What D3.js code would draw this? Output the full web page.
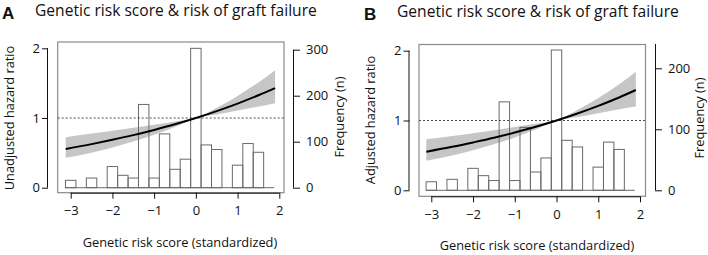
<!DOCTYPE html>
<html>
<head>
<meta charset="utf-8">
<script src="https://cdn.jsdelivr.net/npm/d3@7"></script>
<style>
  body { margin: 0; background: #fff; }
  svg text { font-family: "Open Sans", sans-serif; fill: #111; }
</style>
</head>
<body>
<div id="chart"></div>
<script>
// histogram bin edges (standardized genetic risk score)
const binEdges = [-3.125, -2.875, -2.625, -2.375, -2.125, -1.875, -1.625, -1.375, -1.125, -0.875,
                  -0.625, -0.375, -0.125, 0.125, 0.375, 0.625, 0.875, 1.125, 1.375, 1.625, 1.875];
const countsA = [16, 0, 21, 0, 46, 27, 21, 181, 21, 117, 40, 62, 303, 93, 83, 0, 49, 96, 77, 0];
const countsB = [14, 0, 18, 0, 36, 24, 16, 145, 16, 103, 30, 53, 230, 82, 71, 0, 38, 79, 67, 0];

// hazard ratio curve and 95% band
const curveX = [-3.12, -2.5, -2, -1.5, -1, -0.5, 0, 0.5, 1, 1.5, 1.9];
const hrA    = [0.556, 0.625, 0.687, 0.754, 0.829, 0.910, 1, 1.099, 1.207, 1.326, 1.429];
const loA    = [0.430, 0.503, 0.577, 0.662, 0.760, 0.872, 1, 1.052, 1.106, 1.164, 1.212];
const hiA    = [0.725, 0.777, 0.817, 0.859, 0.904, 0.951, 1, 1.147, 1.317, 1.511, 1.686];
const hrB    = [0.553, 0.623, 0.686, 0.753, 0.829, 0.910, 1, 1.100, 1.210, 1.330, 1.437];
const loB    = [0.424, 0.500, 0.575, 0.660, 0.758, 0.871, 1, 1.050, 1.103, 1.160, 1.200];
const hiB    = [0.730, 0.779, 0.819, 0.861, 0.906, 0.952, 1, 1.150, 1.322, 1.520, 1.700];

const xTicks = [-3, -2, -1, 0, 1, 2];
const hrTicks = [0, 1, 2];
const freqTicksA = [0, 100, 200, 300];
const freqTicksB = [0, 100, 200];

const svg = d3.select("#chart").append("svg")
    .attr("width", 708)
    .attr("height", 255);

function drawPanel(p) {
    const g = svg.append("g");

    const x = d3.scaleLinear().domain([-3, 2]).range(p.xRange);
    const yHr = d3.scaleLinear().domain([0, 2]).range(p.hrRange);
    const yFreq = d3.scaleLinear().domain([0, p.freqMax]).range(p.freqRange);

    // plot box
    g.append("rect")
        .attr("x", p.box[0]).attr("y", p.box[1])
        .attr("width", p.box[2] - p.box[0]).attr("height", p.box[3] - p.box[1])
        .attr("fill", "none")
        .attr("stroke", "#8a8a8a")
        .attr("stroke-width", 1.2);

    const pts = curveX.map((v, i) => ({ x: v, hr: p.hr[i], lo: p.lo[i], hi: p.hi[i] }));

    const band = d3.area()
        .x(d => x(d.x))
        .y0(d => yHr(d.lo))
        .y1(d => yHr(d.hi))
        .curve(d3.curveMonotoneX);

    g.append("path")
        .datum(pts)
        .attr("d", band)
        .attr("fill", "#c6c6c6");

    // histogram
    const bins = p.counts.map((c, i) => ({ x0: binEdges[i], x1: binEdges[i + 1], n: c }));
    g.selectAll("rect.bar")
        .data(bins.filter(d => d.n > 0))
        .enter()
        .append("rect")
        .attr("class", "bar")
        .attr("x", d => x(d.x0))
        .attr("y", d => yFreq(d.n))
        .attr("width", d => x(d.x1) - x(d.x0))
        .attr("height", d => yFreq(0) - yFreq(d.n))
        .attr("fill", "none")
        .attr("stroke", "#6a6a6a")
        .attr("stroke-width", 1);

    g.append("line")
        .attr("x1", x(binEdges[0])).attr("x2", x(binEdges[binEdges.length - 1]))
        .attr("y1", yFreq(0)).attr("y2", yFreq(0))
        .attr("stroke", "#6a6a6a")
        .attr("stroke-width", 1);

    // reference line at HR = 1
    g.append("line")
        .attr("x1", p.box[0]).attr("x2", p.box[2])
        .attr("y1", yHr(1)).attr("y2", yHr(1))
        .attr("stroke", "#222")
        .attr("stroke-width", 0.8)
        .attr("stroke-dasharray", "2,2");

    const line = d3.line()
        .x(d => x(d.x))
        .y(d => yHr(d.hr))
        .curve(d3.curveMonotoneX);

    g.append("path")
        .datum(pts)
        .attr("d", line)
        .attr("fill", "none")
        .attr("stroke", "#000")
        .attr("stroke-width", 2);

    // x axis
    const xAxis = g.append("g")
        .attr("transform", `translate(0,${p.box[3]})`)
        .call(d3.axisBottom(x).tickValues(xTicks).tickSize(6).tickPadding(7).tickFormat(d3.format("d")));
    xAxis.select(".domain").attr("d", `M${x(-3)},0.5H${x(2)}`);

    // left HR axis
    const yAxis = g.append("g")
        .attr("transform", `translate(${p.leftAxisX},0)`)
        .call(d3.axisLeft(yHr).tickValues(hrTicks).tickSize(6).tickPadding(2).tickFormat(d3.format("d")));
    yAxis.select(".domain").attr("d", `M-0.5,${yHr(0)}V${yHr(2)}`);

    // right frequency axis
    const fAxis = g.append("g")
        .attr("transform", `translate(${p.rightAxisX},0)`)
        .call(d3.axisRight(yFreq).tickValues(p.freqTicks).tickSize(7).tickPadding(6));
    fAxis.select(".domain").attr("d", `M0.5,${yFreq(0)}V${yFreq(p.freqLineTop)}`);

    [xAxis, yAxis, fAxis].forEach(a => {
        a.selectAll("line, path").attr("stroke", "#111");
        a.selectAll("text").style("font-size", "13px").attr("fill", "#111");
    });

    // labels
    g.append("text")
        .attr("x", p.panelX).attr("y", p.titleY + 3)
        .style("font-size", "17px")
        .style("font-weight", "bold")
        .style("font-family", "'Liberation Sans', Arial, sans-serif")
        .text(p.letter);

    g.append("text")
        .attr("x", p.titleX).attr("y", p.titleY)
        .style("font-size", "15.6px")
        .text("Genetic risk score & risk of graft failure");

    g.append("text")
        .attr("x", p.xTitleX).attr("y", p.xTitleY)
        .attr("text-anchor", "middle")
        .style("font-size", "12.8px")
        .text("Genetic risk score (standardized)");

    g.append("text")
        .attr("transform", `translate(${p.yTitleX},${p.yTitleY}) rotate(-90)`)
        .attr("text-anchor", "middle")
        .style("font-size", "12.8px")
        .text(p.yTitle);

    g.append("text")
        .attr("transform", `translate(${p.fTitleX},${p.fTitleY}) rotate(-90)`)
        .attr("text-anchor", "middle")
        .style("font-size", "12.8px")
        .text("Frequency (n)");
}

drawPanel({
    letter: "A", panelX: 2, titleX: 35, titleY: 15.5,
    box: [57.7, 42, 284, 192.7],
    xRange: [70.7, 279.3], hrRange: [187.7, 48.3],
    freqMax: 300, freqRange: [187.7, 49.7], freqTicks: freqTicksA, freqLineTop: 300,
    counts: countsA, hr: hrA, lo: loA, hi: hiA,
    leftAxisX: 48, rightAxisX: 293,
    xTitleX: 180, xTitleY: 247,
    yTitle: "Unadjusted hazard ratio", yTitleX: 14, yTitleY: 118,
    fTitleX: 344, fTitleY: 117
});

drawPanel({
    letter: "B", panelX: 364, titleX: 397, titleY: 16.5,
    box: [419, 44.5, 645.5, 196.3],
    xRange: [431.3, 640], hrRange: [190.3, 50.7],
    freqMax: 200, freqRange: [190.3, 68.3], freqTicks: freqTicksB, freqLineTop: 240,
    counts: countsB, hr: hrB, lo: loB, hi: hiB,
    leftAxisX: 409.5, rightAxisX: 655,
    xTitleX: 537, xTitleY: 250,
    yTitle: "Adjusted hazard ratio", yTitleX: 375, yTitleY: 120,
    fTitleX: 704, fTitleY: 118
});
</script>
</body>
</html>
